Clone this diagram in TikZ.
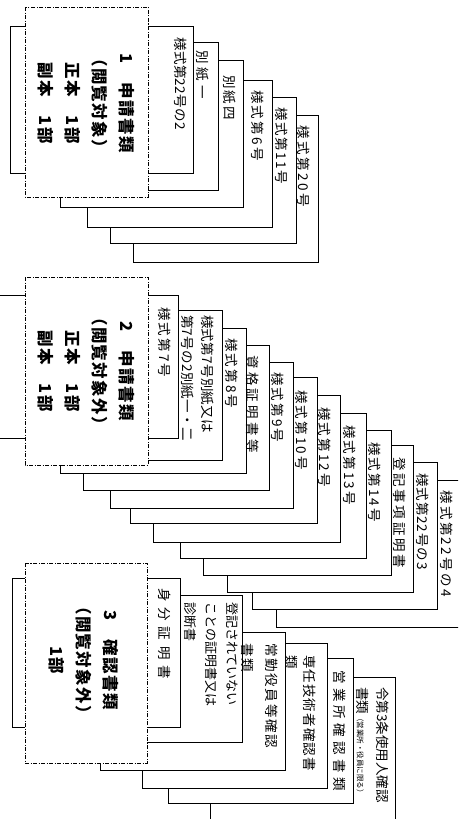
\documentclass[tikz,border=0pt]{standalone}
\usepackage{fontspec}
\setmainfont{Noto Sans CJK JP}
\newcommand\labsize{\fontsize{13.5}{20}\selectfont}
\newcommand\ttlsize{\fontsize{16.5}{27}\selectfont}
\tikzset{
  sheet/.style={draw=black, fill=white, line width=0.9pt},
  frontbox/.style={draw=black, fill=white, line width=0.9pt, dash pattern=on 4pt off 1.5pt on 1pt off 1.5pt},
  lab/.style={rotate=-90, anchor=north west, inner sep=0pt, align=left, font=\labsize\addfontfeature{LetterSpace=#1}},
  lab/.default=16,
  ttl/.style={rotate=-90, anchor=center, inner sep=0pt, align=center, font=\ttlsize\bfseries\addfontfeature{LetterSpace=8}},
}
\begin{document}
\begin{tikzpicture}[x=1pt,y=-1pt]
\useasboundingbox (0,0) rectangle (458,819);
\clip (0,0) rectangle (458,819);
\fill[white] (0,0) rectangle (458,819);

% ---------- group 1 sheets (back to front)
\filldraw[sheet] (133,115) rectangle (318,262);
\filldraw[sheet] (110,97) rectangle (296,243);
\filldraw[sheet] (87,80) rectangle (272,227);
\filldraw[sheet] (60,60) rectangle (243,207);
\filldraw[sheet] (40,42) rectangle (218,190);
\filldraw[sheet] (10,26) rectangle (193,173);
\filldraw[frontbox] (25,7) rectangle (148,197);

% ---------- group 2 sheets
\filldraw[sheet] (276,480) rectangle (470,627);
\filldraw[sheet] (252,462) rectangle (437,609);
\filldraw[sheet] (227,445) rectangle (413,592);
\filldraw[sheet] (203,430) rectangle (391,575);
\filldraw[sheet] (180,413) rectangle (366,558);
\filldraw[sheet] (153,395) rectangle (340,542);
\filldraw[sheet] (130,377) rectangle (317,523);
\filldraw[sheet] (110,362) rectangle (293,508);
\filldraw[sheet] (83,345) rectangle (269,490);
\filldraw[sheet] (60,328) rectangle (246,473);
\filldraw[sheet] (40,310) rectangle (222,460);
\filldraw[sheet] (-5,295) rectangle (178,438);
\filldraw[frontbox] (25,277) rectangle (148,465);

% ---------- group 3 sheets
\filldraw[sheet] (210,677) rectangle (395,840);
\filldraw[sheet] (168,658) rectangle (353,803);
\filldraw[sheet] (142,643) rectangle (327,788);
\filldraw[sheet] (100,632) rectangle (285,770);
\filldraw[sheet] (40,595) rectangle (242,742);
\filldraw[sheet] (12,578) rectangle (180,727);
\filldraw[frontbox] (25,563) rectangle (147,763);

% ---------- titles
\node[ttl] (t1) at (86,103) {1　申請書類\\（閲覧対象）\\正本　1部\\副本　1部};
\node[ttl] (t2) at (86,371) {2　申請書類\\（閲覧対象外）\\正本　1部\\副本　1部};
\node[ttl] (t3) at (84,660) {3　確認書類\\（閲覧対象外）\\1部};

% ---------- labels group 1
\node[lab=3] (l1a) at (187,37) {様式第22号の2};
\node[lab=30] (l1b) at (209,50) {別紙一};
\node[lab=16] (l1c) at (236,75) {別紙四};
\node[lab=17] (l1d) at (264,90) {様式第6号};
\node[lab=12] (l1e) at (288,107) {様式第11号};
\node[lab=19] (l1f) at (310,125) {様式第20号};

% ---------- labels group 2
\node[lab=16] (l2a) at (171,307) {様式第7号};
\node[lab=2] (l2b) at (214,315) {様式第7号別紙又は\\第7号の2別紙一・二};
\node[lab=16] (l2c) at (238,338) {様式第8号};
\node[lab=25] (l2d) at (259,355) {資格証明書等};
\node[lab=16] (l2e) at (284,372) {様式第9号};
\node[lab=16] (l2f) at (308,390) {様式第10号};
\node[lab=16] (l2g) at (331,407) {様式第12号};
\node[lab=16] (l2h) at (356,425) {様式第13号};
\node[lab=16] (l2i) at (381,442) {様式第14号};
\node[lab=20] (l2j) at (406,457) {登記事項証明書};
\node[lab=7] (l2k) at (429,473) {様式第22号の3};
\node[lab=18] (l2l) at (453,490) {様式第22号の4};

% ---------- labels group 3
\node[lab=43] (l3a) at (171,588) {身分証明書};
\node[lab, font=\fontsize{13}{21}\selectfont\addfontfeature{LetterSpace=0}] (l3b) at (239,602) {登記されていない\\ことの証明書又は\\診断書};
\node[lab, font=\fontsize{13.5}{24}\selectfont\addfontfeature{LetterSpace=13}] (l3c) at (278,643) {常勤役員等確認\\書類};
\node[lab, font=\fontsize{13.5}{18}\selectfont\addfontfeature{LetterSpace=8}] (l3d) at (316,655) {専任技術者確認書\\類};
\node[lab=32] (l3e) at (346,670) {営業所確認書類};
\node[lab=0] (l3f) at (389,687) {令第3条使用人確認\\書類{\fontsize{7.5}{9}\selectfont\addfontfeature{LetterSpace=0}（営業所・役員に限る）}};
\end{tikzpicture}
\end{document}
